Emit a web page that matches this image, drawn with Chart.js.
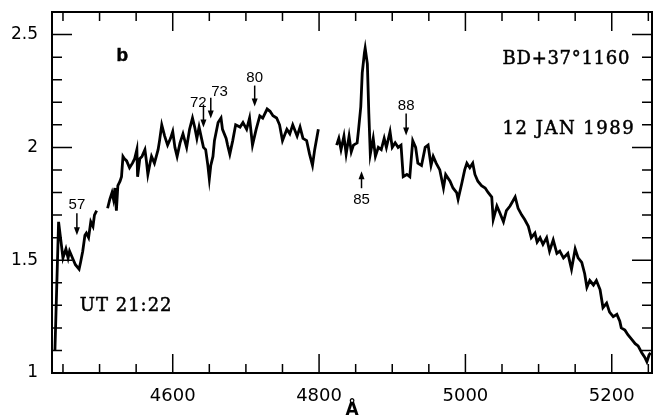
<!DOCTYPE html>
<html>
<head>
<meta charset="utf-8">
<script src="https://cdn.jsdelivr.net/npm/chart.js@4.4.1/dist/chart.umd.min.js"></script>
<style>
  html, body { margin: 0; padding: 0; background: #fff; }
  #wrap { width: 656px; height: 419px; }
</style>
</head>
<body>
<div id="wrap"><canvas id="spectrumChart" width="656" height="419"></canvas></div>
<script>
// wavelength (Angstrom) and relative flux, null = gap in the spectrum
const wavelength = [
  4439, 4444, 4447, 4450, 4454, 4457, 4459, 4463, 4467, 4472, 4474, 4477, 4480, 4482, 4485, 4488, 4491, 4493, 4496,
  4503,
  4511, 4514, 4517, 4519, 4521, 4523, 4525, 4528, 4530, 4532, 4534, 4537, 4541, 4545, 4548, 4551, 4552, 4555, 4558,
  4562, 4564, 4566, 4569, 4571, 4575, 4580, 4582, 4585, 4589, 4593, 4597, 4600, 4603, 4606, 4610, 4614, 4619, 4623,
  4627, 4630, 4633, 4636, 4640, 4642, 4645, 4648, 4650, 4652, 4655, 4657, 4662, 4666, 4668, 4673, 4675, 4678, 4682,
  4686, 4692, 4696, 4701, 4705, 4709, 4714, 4719, 4723, 4729, 4733, 4737, 4742, 4746, 4750, 4756, 4760, 4764, 4770,
  4774, 4778, 4783, 4787, 4791, 4794, 4799,
  4811,
  4824, 4827, 4830, 4834, 4837, 4841, 4844, 4847, 4852, 4854, 4857, 4859, 4862, 4863, 4866, 4868, 4870, 4874, 4877,
  4881, 4885, 4889, 4892, 4897, 4900, 4904, 4908, 4912, 4915, 4920, 4924, 4928, 4932, 4935, 4940, 4945, 4949, 4953,
  4956, 4960, 4965, 4970, 4973, 4979, 4983, 4988, 4990, 4995, 4999, 5002, 5006, 5010, 5013, 5017, 5022, 5027, 5031,
  5036, 5038, 5043, 5047, 5052, 5056, 5061, 5068, 5072, 5077, 5081, 5086, 5090, 5095, 5098, 5102, 5106, 5111, 5115,
  5120, 5125, 5129, 5134, 5140, 5145, 5150, 5154, 5159, 5163, 5166, 5170, 5175, 5179, 5184, 5188, 5193, 5197, 5202,
  5207, 5211, 5213, 5218, 5222, 5227, 5232, 5236, 5241, 5245, 5248, 5251, 5253
];
const flux = [
  1.10, 1.67, 1.59, 1.51, 1.55, 1.51, 1.54, 1.51, 1.48, 1.46, 1.49, 1.54, 1.61, 1.62, 1.60, 1.67, 1.65, 1.70, 1.72,
  null,
  1.73, 1.77, 1.80, 1.77, 1.82, 1.72, 1.83, 1.85, 1.87, 1.96, 1.95, 1.94, 1.91, 1.93, 1.95, 1.99, 1.87, 1.95, 1.96,
  1.99, 1.94, 1.88, 1.93, 1.96, 1.93, 1.99, 2.03, 2.10, 2.05, 2.01, 2.04, 2.07, 2.00, 1.96, 2.02, 2.06, 2.00, 2.08,
  2.13, 2.09, 2.04, 2.09, 2.03, 2.00, 1.99, 1.92, 1.86, 1.92, 1.96, 2.03, 2.11, 2.13, 2.08, 2.04, 2.01, 1.97, 2.03,
  2.10, 2.09, 2.11, 2.08, 2.13, 2.01, 2.08, 2.14, 2.13, 2.17, 2.16, 2.14, 2.13, 2.10, 2.03, 2.08, 2.06, 2.10, 2.05,
  2.09, 2.04, 2.03, 1.97, 1.92, 1.99, 2.08,
  null,
  2.01, 2.04, 1.99, 2.05, 1.97, 2.05, 1.98, 2.01, 2.02, 2.08, 2.18, 2.33, 2.42, 2.44, 2.37, 2.15, 1.97, 2.04, 1.96,
  2.00, 1.99, 2.04, 2.00, 2.07, 2.00, 2.02, 2.00, 2.01, 1.87, 1.88, 1.87, 2.03, 2.00, 1.93, 1.92, 2.00, 2.01, 1.92,
  1.96, 1.93, 1.90, 1.82, 1.88, 1.85, 1.82, 1.80, 1.77, 1.84, 1.90, 1.93, 1.91, 1.93, 1.88, 1.85, 1.83, 1.82, 1.80,
  1.78, 1.68, 1.74, 1.71, 1.67, 1.72, 1.74, 1.78, 1.73, 1.70, 1.68, 1.65, 1.60, 1.62, 1.58, 1.60, 1.57, 1.60, 1.54,
  1.59, 1.53, 1.54, 1.51, 1.53, 1.46, 1.55, 1.51, 1.49, 1.44, 1.38, 1.41, 1.39, 1.41, 1.37, 1.29, 1.31, 1.27, 1.25,
  1.26, 1.23, 1.20, 1.19, 1.17, 1.15, 1.13, 1.12, 1.09, 1.07, 1.05, 1.08, 1.09
];

// tick values
const xLabelTicks = [4600, 4800, 5000, 5200];
const xMinorTicks = [4450, 4500, 4550, 4650, 4700, 4750, 4850, 4900, 4950, 5050, 5100, 5150, 5250];
const yLabelTicks = [1, 1.5, 2, 2.5];
const yMinorTicks = [1.1, 1.2, 1.3, 1.4, 1.6, 1.7, 1.8, 1.9, 2.1, 2.2, 2.3, 2.4];

// line identifications marked with arrows
const lineIds = ['57', '72', '73', '80', '85', '88'];
const lineWave = [4469, 4642, 4652, 4712, 4858, 4919];

// annotation layout (data coordinates)
const arrows = [
  { tail: 1.708, tip: 1.611, lx: 4469, ly: 1.745 },
  { tail: 2.19, tip: 2.088, lx: 4635, ly: 2.199 },
  { tail: 2.22, tip: 2.128, lx: 4664, ly: 2.246 },
  { tail: 2.274, tip: 2.181, lx: 4712, ly: 2.308 },
  { tail: 1.819, tip: 1.894, lx: 4858, ly: 1.769 },
  { tail: 2.15, tip: 2.053, lx: 4919, ly: 2.186 }
];
const serif = '18px "DejaVu Serif", serif';
const texts = [
  { t: 'b', x: 4531, y: 2.408, align: 'center', font: 'bold 19px "Liberation Sans", Arial, sans-serif', sp: 0 },
  { t: 'BD+37\u00b01160', x: 5225, y: 2.389, align: 'right', font: serif, sp: 0.7 },
  { t: '12 JAN 1989', x: 5232, y: 2.08, align: 'right', font: serif, sp: 1.5 },
  { t: 'UT 21:22', x: 4473, y: 1.296, align: 'left', font: serif, sp: 1 }
];

const points = wavelength.map((w, i) => ({ x: w, y: flux[i] }));

const frameAndTicks = {
  id: 'frameAndTicks',
  afterDatasetsDraw(chart) {
    const { ctx, chartArea: a, scales: { x, y } } = chart;
    ctx.save();
    ctx.strokeStyle = '#000';
    ctx.lineWidth = 1.5;
    ctx.beginPath();
    xLabelTicks.map(v => [v, 19]).concat(xMinorTicks.map(v => [v, 9])).forEach(([v, len]) => {
      const px = x.getPixelForValue(v);
      ctx.moveTo(px, a.bottom); ctx.lineTo(px, a.bottom - len);
      ctx.moveTo(px, a.top); ctx.lineTo(px, a.top + len);
    });
    yLabelTicks.map(v => [v, 20]).concat(yMinorTicks.map(v => [v, 10])).forEach(([v, len]) => {
      const py = y.getPixelForValue(v);
      ctx.moveTo(a.left, py); ctx.lineTo(a.left + len, py);
      ctx.moveTo(a.right, py); ctx.lineTo(a.right - len, py);
    });
    ctx.stroke();
    ctx.lineWidth = 2;
    ctx.strokeRect(a.left, a.top, a.right - a.left, a.bottom - a.top);

    // arrows and their labels
    ctx.fillStyle = '#000';
    ctx.lineWidth = 1.5;
    ctx.font = '15px "Liberation Sans", Arial, sans-serif';
    ctx.textAlign = 'center';
    ctx.textBaseline = 'middle';
    arrows.forEach((ar, i) => {
      const px = x.getPixelForValue(lineWave[i]);
      const t0 = y.getPixelForValue(ar.tail);
      const t1 = y.getPixelForValue(ar.tip);
      const dir = t1 > t0 ? 1 : -1;
      ctx.beginPath();
      ctx.moveTo(px, t0); ctx.lineTo(px, t1 - dir * 5);
      ctx.stroke();
      ctx.beginPath();
      ctx.moveTo(px, t1);
      ctx.lineTo(px - 3, t1 - dir * 8);
      ctx.lineTo(px + 3, t1 - dir * 8);
      ctx.closePath();
      ctx.fill();
      ctx.fillText(lineIds[i], x.getPixelForValue(ar.lx), y.getPixelForValue(ar.ly));
    });

    ctx.lineWidth = 0.5;
    texts.forEach(tx => {
      ctx.font = tx.font;
      ctx.textAlign = tx.align;
      ctx.letterSpacing = tx.sp + 'px';
      const px = x.getPixelForValue(tx.x), py = y.getPixelForValue(tx.y);
      ctx.fillText(tx.t, px, py);
      ctx.strokeText(tx.t, px, py);
    });
    ctx.restore();
  }
};

new Chart(document.getElementById('spectrumChart'), {
  type: 'line',
  data: {
    datasets: [{
      data: points,
      borderColor: '#000',
      borderWidth: 2.8,
      pointRadius: 0,
      tension: 0,
      spanGaps: false,
      fill: false
    }]
  },
  options: {
    responsive: false,
    animation: false,
    layout: { padding: { top: 12, right: 4, left: 0, bottom: 0 } },
    plugins: { legend: { display: false }, tooltip: { enabled: false } },
    scales: {
      x: {
        type: 'linear',
        min: 4435,
        max: 5255,
        grid: { display: false, drawTicks: false },
        border: { display: false },
        afterBuildTicks: s => { s.ticks = xLabelTicks.map(v => ({ value: v })); },
        afterFit: s => { s.height = 46; s.paddingLeft = 0; s.paddingRight = 0; },
        ticks: {
          padding: 13,
          maxRotation: 0,
          color: '#000',
          font: { family: '"DejaVu Sans", sans-serif', size: 18 },
          callback: v => String(v)
        },
        title: {
          display: true,
          text: '\u00c5',
          color: '#000',
          padding: { top: 0, bottom: -2 },
          font: { family: '"DejaVu Sans", sans-serif', size: 17, weight: 'bold' }
        }
      },
      y: {
        type: 'linear',
        min: 1,
        max: 2.6,
        grid: { display: false, drawTicks: false },
        border: { display: false },
        afterBuildTicks: s => { s.ticks = yLabelTicks.map(v => ({ value: v })); },
        afterFit: s => { s.width = 52; s.paddingTop = 0; s.paddingBottom = 0; },
        ticks: {
          padding: 14,
          color: '#000',
          font: { family: '"DejaVu Sans", sans-serif', size: 17 },
          callback: v => String(v)
        }
      }
    }
  },
  plugins: [frameAndTicks]
});
</script>
</body>
</html>
